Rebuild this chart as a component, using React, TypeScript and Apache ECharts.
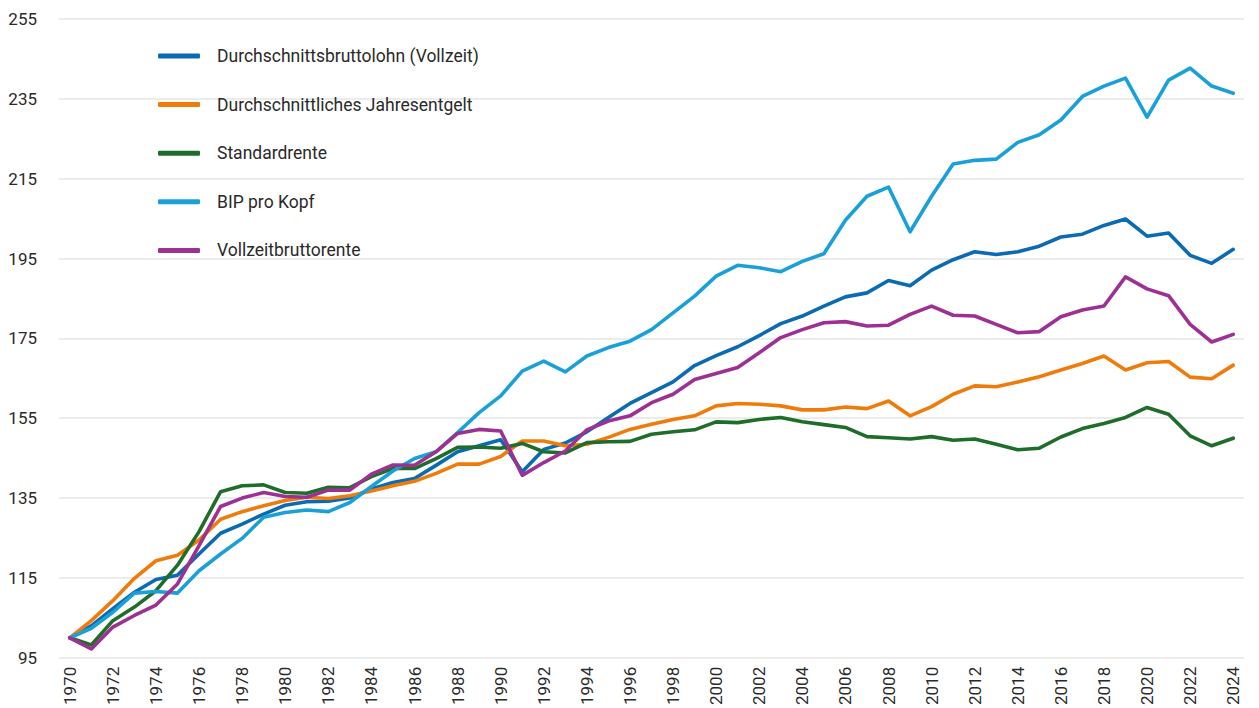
import React, { useEffect, useRef } from "react";
import * as echarts from "echarts";

const years = [
  "1970", "1971", "1972", "1973", "1974", "1975", "1976", "1977", "1978", "1979",
  "1980", "1981", "1982", "1983", "1984", "1985", "1986", "1987", "1988", "1989",
  "1990", "1991", "1992", "1993", "1994", "1995", "1996", "1997", "1998", "1999",
  "2000", "2001", "2002", "2003", "2004", "2005", "2006", "2007", "2008", "2009",
  "2010", "2011", "2012", "2013", "2014", "2015", "2016", "2017", "2018", "2019",
  "2020", "2021", "2022", "2023", "2024",
];

const bruttolohn = [
  100, 103, 107.3, 111.4, 114.6, 115.7, 121, 126.2, 128.5, 131,
  133.2, 134.1, 134.2, 135, 137.3, 138.9, 139.9, 143.2, 146.6, 148.1,
  149.6, 141.6, 147.2, 148.8, 151.6, 155.2, 158.7, 161.4, 164.1, 168.2,
  170.7, 172.9, 175.7, 178.7, 180.6, 183.1, 185.4, 186.4, 189.5, 188.2,
  192.1, 194.7, 196.7, 196, 196.7, 198.1, 200.4, 201.1, 203.3, 204.9,
  200.6, 201.4, 195.8, 193.8, 197.3,
];

const jahresentgelt = [
  100, 104.3, 109.3, 114.9, 119.3, 120.7, 124.5, 129.7, 131.6, 133.1,
  134.4, 135.2, 134.9, 135.6, 136.8, 138.1, 139.2, 141.2, 143.5, 143.5,
  145.4, 149.3, 149.3, 148.1, 148.5, 150.2, 152.2, 153.5, 154.7, 155.6,
  158.1, 158.7, 158.5, 158.1, 157.1, 157.1, 157.8, 157.4, 159.3, 155.6,
  157.9, 161, 163.1, 162.9, 164.1, 165.4, 167.1, 168.7, 170.6, 167.1,
  168.9, 169.2, 165.3, 164.9, 168.3,
];

const standardrente = [
  100, 98.2, 104.3, 107.7, 111.8, 118.2, 126.6, 136.6, 138.1, 138.3,
  136.4, 136.2, 137.7, 137.6, 140.4, 142.4, 142.4, 144.9, 147.7, 147.8,
  147.5, 148.7, 146.6, 146.3, 148.9, 149.1, 149.2, 151, 151.6, 152.1,
  154.1, 153.9, 154.7, 155.2, 154.1, 153.4, 152.7, 150.4, 150.1, 149.8,
  150.4, 149.5, 149.8, 148.5, 147.1, 147.5, 150.3, 152.4, 153.7, 155.2,
  157.7, 156, 150.6, 148.1, 150,
];

const bipProKopf = [
  100, 102.4, 106.4, 111.2, 111.6, 111.2, 116.8, 121, 124.9, 130.2,
  131.4, 132, 131.6, 133.9, 137.9, 141.8, 144.9, 146.6, 151.4, 156.4,
  160.6, 166.8, 169.3, 166.6, 170.6, 172.7, 174.3, 177.2, 181.4, 185.6,
  190.6, 193.3, 192.7, 191.7, 194.3, 196.2, 204.6, 210.6, 212.9, 201.7,
  210.6, 218.7, 219.6, 219.9, 224.1, 226, 229.7, 235.6, 238.2, 240.2,
  230.4, 239.7, 242.7, 238.2, 236.4,
];

const vollzeitbruttorente = [
  100, 97.2, 102.7, 105.6, 108.2, 113.5, 123.1, 132.9, 135, 136.4,
  135.4, 135.2, 137, 137, 141, 143.3, 143.2, 146.6, 151.2, 152.2,
  151.8, 140.7, 143.9, 146.8, 152.1, 154.3, 155.6, 158.9, 161, 164.7,
  166.2, 167.7, 171.4, 175.2, 177.2, 178.9, 179.2, 178.1, 178.3, 181,
  183.1, 180.8, 180.6, 178.5, 176.4, 176.7, 180.4, 182.1, 183.1, 190.4,
  187.4, 185.7, 178.5, 174.1, 176,
];

const seriesNames = [
  "Durchschnittsbruttolohn (Vollzeit)",
  "Durchschnittliches Jahresentgelt",
  "Standardrente",
  "BIP pro Kopf",
  "Vollzeitbruttorente",
];
const seriesColors = ["#0a6bb3", "#ef7c0a", "#1f6d2a", "#1aa0d8", "#9d3193"];
const seriesData = [bruttolohn, jahresentgelt, standardrente, bipProKopf, vollzeitbruttorente];

const FONT = "Roboto, 'Noto Sans', sans-serif";

export default function App() {
  const ref = useRef<HTMLDivElement>(null);

  useEffect(() => {
    if (!ref.current) return;
    const chart = echarts.init(ref.current, undefined, { renderer: "svg" });
    chart.setOption({
      animation: false,
      backgroundColor: "#ffffff",
      grid: { left: 59, right: 15, top: 19, bottom: 49, containLabel: false },
      legend: {
        orient: "vertical",
        left: 153,
        top: 41,
        icon: "roundRect",
        itemWidth: 42,
        itemHeight: 5,
        itemGap: 28.6,
        data: seriesNames,
        textStyle: {
          fontFamily: FONT,
          fontSize: 17.5,
          lineHeight: 20,
          color: "#2a2a2a",
          padding: [0, 0, 0, 12],
        },
      },
      xAxis: {
        type: "category",
        data: years,
        boundaryGap: true,
        axisLine: { show: false },
        axisTick: { show: false },
        axisLabel: {
          interval: 1,
          rotate: 90,
          margin: 9,
          fontFamily: FONT,
          fontSize: 17,
          color: "#2a2a2a",
        },
        splitLine: { show: false },
      },
      yAxis: {
        type: "value",
        min: 95,
        max: 255,
        interval: 20,
        axisLine: { show: false },
        axisTick: { show: false },
        axisLabel: {
          margin: 22,
          fontFamily: FONT,
          fontSize: 17,
          color: "#2a2a2a",
        },
        splitLine: { lineStyle: { color: "#e6e6e6", width: 1.5 } },
      },
      series: seriesNames.map((name, i) => ({
        name,
        type: "line",
        data: seriesData[i],
        symbol: "none",
        showSymbol: false,
        color: seriesColors[i],
        lineStyle: { width: 3.6, color: seriesColors[i], join: "round", cap: "round" },
      })),
    });
    return () => chart.dispose();
  }, []);

  return <div ref={ref} style={{ width: 1259, height: 708, position: "absolute", left: 0, top: 0 }} />;
}
